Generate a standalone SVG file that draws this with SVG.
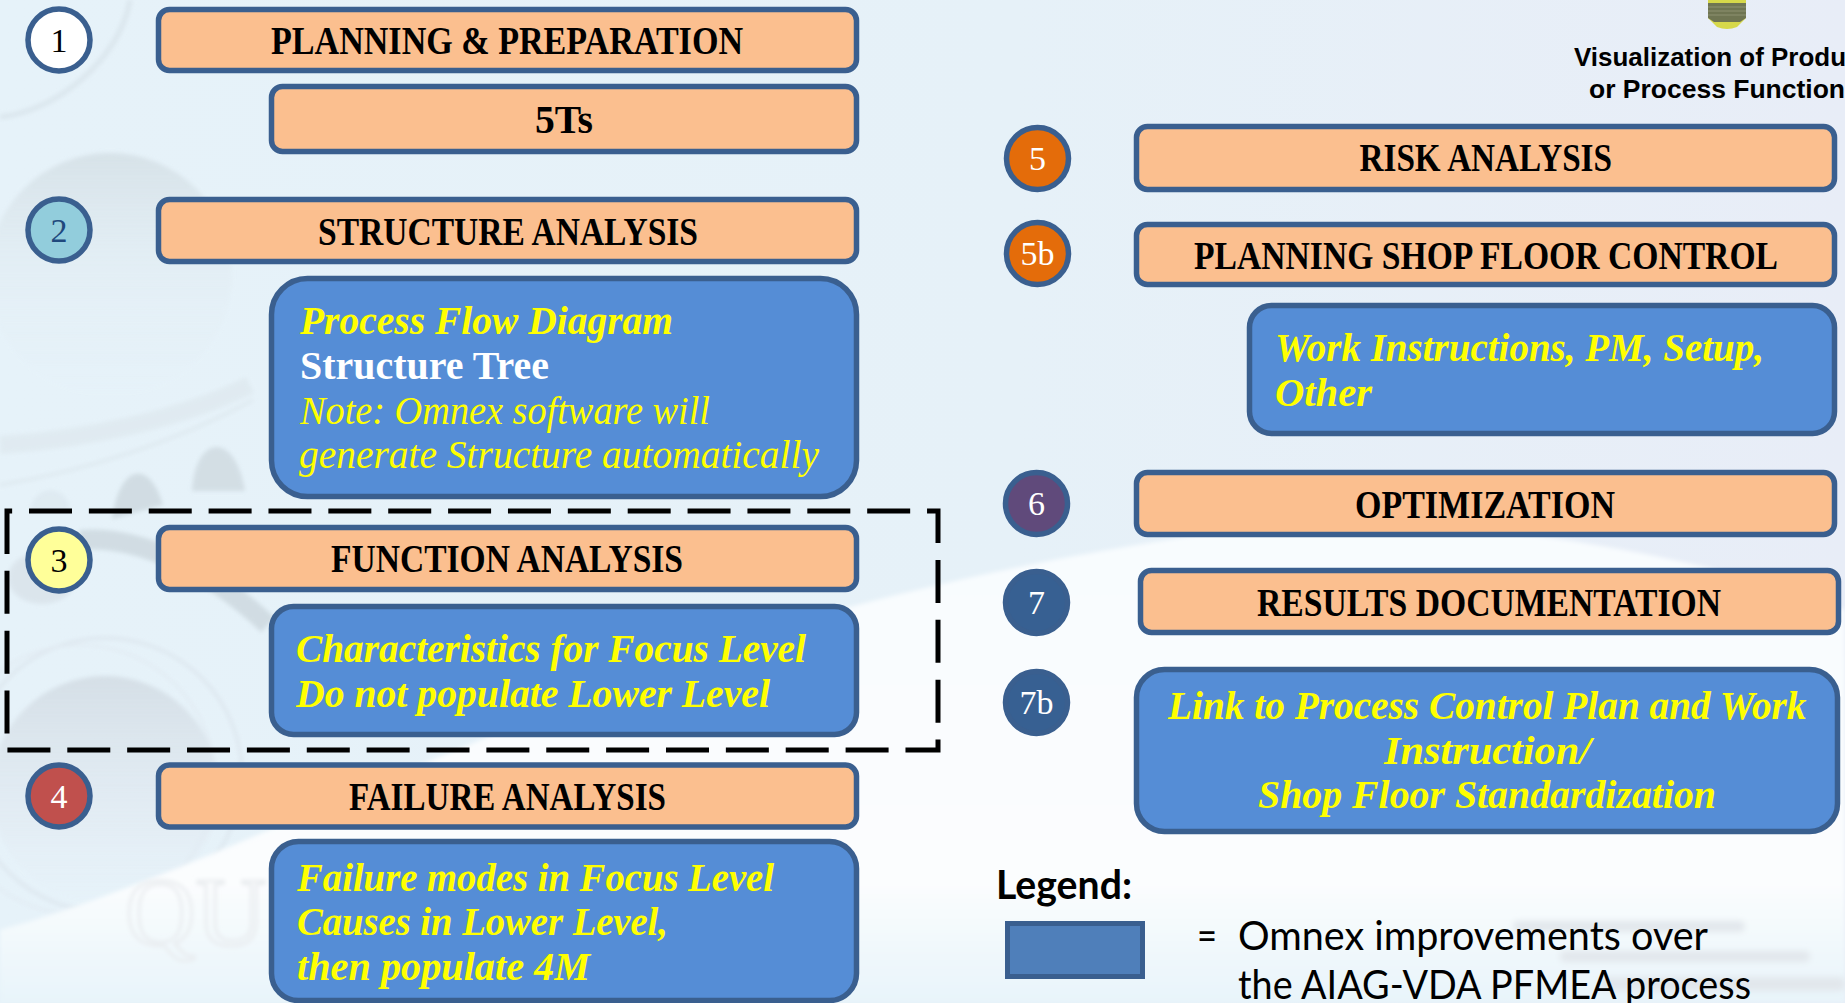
<svg xmlns="http://www.w3.org/2000/svg" width="1845" height="1003" viewBox="0 0 1845 1003">
<style>
.p{fill:#fbbf8f;stroke:#3a5f8f;stroke-width:5.500}
.b{fill:#558dd6;stroke:#3a5f8f;stroke-width:5.500}
.c{stroke:#3a5f8f;stroke-width:5.500}
text{font-family:"Liberation Serif",serif}
.h{font-size:39px;font-weight:bold;fill:#000;text-anchor:start}
.i{font-size:39px;font-weight:bold;font-style:italic;fill:#ffff00}
.n{font-size:39px;font-style:italic;fill:#ffff00}
.w{font-size:39px;font-weight:bold;fill:#fff}
.d{font-size:34px;text-anchor:middle}
.l{font-family:Lato,"Open Sans",sans-serif;font-size:40px;fill:#000}
.v{font-family:"Liberation Sans",Arial,sans-serif;font-size:26px;font-weight:bold;fill:#000}
</style>
<defs>
<linearGradient id="bg" x1="0" x2="1" y1="0" y2="0"><stop offset="0" stop-color="#e6f2f9"/><stop offset="0.55" stop-color="#e6f1f8"/><stop offset="1" stop-color="#e8edf7"/></linearGradient>
<linearGradient id="sw" x1="0" x2="0" y1="0" y2="1"><stop offset="0" stop-color="#f8fcfe"/><stop offset="0.75" stop-color="#fbfdfe"/><stop offset="1" stop-color="#e8f4fa"/></linearGradient>
<linearGradient id="dome" x1="0" x2="0" y1="0" y2="1"><stop offset="0" stop-color="#cfdae0"/><stop offset="0.5" stop-color="#e0eaf0" stop-opacity="0.6"/><stop offset="1" stop-color="#e4eff6" stop-opacity="0"/></linearGradient>
<linearGradient id="hub" x1="0" x2="0" y1="0" y2="1"><stop offset="0" stop-color="#ccd5dd"/><stop offset="0.7" stop-color="#dfe6ee" stop-opacity="0.5"/><stop offset="1" stop-color="#e6edf5" stop-opacity="0"/></linearGradient>
<filter id="s1" x="-20%" y="-20%" width="140%" height="140%"><feGaussianBlur stdDeviation="2"/></filter>
<filter id="s4" x="-20%" y="-100%" width="140%" height="300%"><feGaussianBlur stdDeviation="3"/></filter>
</defs>
<g id="background">
<rect width="1845" height="1003" fill="url(#bg)"/>
<g filter="url(#s1)" fill="none" opacity="0.65">
<path d="M0,117C55,112 120,60 130,0" stroke="#d5e0e7" stroke-width="5"/>
<circle cx="110" cy="275" r="122" fill="url(#dome)"/>
<path d="M0,485C90,470 180,440 253,400" stroke="#d9e3e9" stroke-width="3"/>
<path d="M0,445C80,440 180,420 250,385" stroke="#dde7ed" stroke-width="18"/>
<path d="M30,511C32,485 68,482 70,511Z" fill="#cfd9df" fill-opacity=".45"/>
<path d="M112,519C120,462 150,460 163,505Z" fill="#c6d1d8"/>
<path d="M192,491C195,435 235,430 245,491Z" fill="#c9d4da"/>
<path d="M80,540C140,535 210,570 268,625" stroke="#c6d1d8" stroke-width="20"/>
<ellipse cx="42" cy="578" rx="34" ry="26" fill="#d6dfe6"/>
<circle cx="105" cy="775" r="137" stroke="#d8e0e8" stroke-width="3"/>
<circle cx="105" cy="790" r="114" fill="url(#hub)"/>
<circle cx="80" cy="780" r="135" stroke="#dfe6ee" stroke-width="2"/>
</g>
<path filter="url(#s1)" d="M0,930C220,870 520,700 850,607C1000,568 1120,545 1270,525C1420,512 1680,545 1845,610L1845,1003L0,1003Z" fill="url(#sw)"/>
<g filter="url(#s4)" fill="#e2e7ec">
<rect x="1513" y="921" width="232" height="11" rx="5"/>
<rect x="1560" y="951" width="250" height="11" rx="5"/>
<rect x="1600" y="977" width="245" height="14" rx="5"/>
</g>
<text x="125" y="945" font-size="98" fill="none" stroke="#e8ebee" stroke-width="2.500" filter="url(#s1)">QU</text>
<g id="bulb">
<path d="M1708,0H1746L1746,18L1737,27Q1727,31 1717,27L1708,18Z" fill="#d6d84a"/>
<path d="M1708,3H1746V18L1740,22H1714L1708,18Z" fill="#6f7552"/>
<path d="M1708,7H1746M1708,11H1746M1708,15H1746" stroke="#8d9270" stroke-width="1.200"/>
</g>
</g>
<g id="frame">
<path d="M7,511H938V750H7Z" fill="none" stroke="#000" stroke-width="5" stroke-dasharray="43 16.87" stroke-dashoffset="37.87"/>
</g>
<g id="connectors"/>
<g id="node-1"><circle class="c" cx="59" cy="40" r="31" fill="#fff"/><text class="d" x="59" y="52" fill="#000">1</text></g>
<g id="node-planning"><rect class="p" x="158.500" y="9.500" width="698" height="61" rx="11"/><text class="h" x="271" y="54" textLength="472" lengthAdjust="spacingAndGlyphs">PLANNING &amp; PREPARATION</text></g>
<g id="node-5ts"><rect class="p" x="271.500" y="86.500" width="585" height="65" rx="11"/><text class="h" x="535" y="133" textLength="58" lengthAdjust="spacingAndGlyphs">5Ts</text></g>
<g id="node-2"><circle class="c" cx="59" cy="230" r="31" fill="#92cddc"/><text class="d" x="59" y="242" fill="#1f497d">2</text></g>
<g id="node-structure"><rect class="p" x="158.500" y="199.500" width="698" height="62" rx="11"/><text class="h" x="318" y="245" textLength="380" lengthAdjust="spacingAndGlyphs">STRUCTURE ANALYSIS</text></g>
<g id="node-structure-note"><rect class="b" x="271.500" y="278.500" width="585" height="218" rx="36"/>
<text class="i" x="300" y="334" textLength="373" lengthAdjust="spacingAndGlyphs">Process Flow Diagram</text>
<text class="w" x="300" y="379" textLength="249" lengthAdjust="spacingAndGlyphs">Structure Tree</text>
<text class="n" x="300" y="424" textLength="410" lengthAdjust="spacingAndGlyphs">Note: Omnex software will</text>
<text class="n" x="299" y="468" textLength="520" lengthAdjust="spacingAndGlyphs">generate Structure automatically</text></g>
<g id="node-3"><circle class="c" cx="59" cy="560" r="31" fill="#ffff99"/><text class="d" x="59" y="572" fill="#000">3</text></g>
<g id="node-function"><rect class="p" x="158.500" y="527.500" width="698" height="62" rx="11"/><text class="h" x="331" y="572" textLength="352" lengthAdjust="spacingAndGlyphs">FUNCTION ANALYSIS</text></g>
<g id="node-function-note"><rect class="b" x="271.500" y="606.500" width="585" height="128" rx="22"/>
<text class="i" x="296" y="662" textLength="510" lengthAdjust="spacingAndGlyphs">Characteristics for Focus Level</text>
<text class="i" x="296" y="707" textLength="474" lengthAdjust="spacingAndGlyphs">Do not populate Lower Level</text></g>
<g id="node-4"><circle class="c" cx="59" cy="796" r="31" fill="#c0504d"/><text class="d" x="59" y="808" fill="#fff">4</text></g>
<g id="node-failure"><rect class="p" x="158.500" y="765" width="698" height="62" rx="11"/><text class="h" x="349" y="810" textLength="317" lengthAdjust="spacingAndGlyphs">FAILURE ANALYSIS</text></g>
<g id="node-failure-note"><rect class="b" x="271.500" y="841.500" width="585" height="159" rx="27"/>
<text class="i" x="297" y="891" textLength="477" lengthAdjust="spacingAndGlyphs">Failure modes in Focus Level</text>
<text class="i" x="297" y="935" textLength="371" lengthAdjust="spacingAndGlyphs">Causes in Lower Level,</text>
<text class="i" x="297" y="980" textLength="293" lengthAdjust="spacingAndGlyphs">then populate 4M</text></g>
<g id="node-visualization"><text class="v" x="1574" y="66" textLength="272" lengthAdjust="spacingAndGlyphs">Visualization of Produ</text><text class="v" x="1589" y="98" textLength="256" lengthAdjust="spacingAndGlyphs">or Process Function</text></g>
<g id="node-5"><circle class="c" cx="1037.500" cy="158.500" r="31" fill="#e46c0a"/><text class="d" x="1037.500" y="170" fill="#fff">5</text></g>
<g id="node-risk"><rect class="p" x="1136.500" y="126.500" width="698" height="63" rx="11"/><text class="h" x="1359.500" y="171" textLength="252.500" lengthAdjust="spacingAndGlyphs">RISK ANALYSIS</text></g>
<g id="node-5b"><circle class="c" cx="1037.500" cy="253.500" r="31" fill="#e46c0a"/><text class="d" x="1037.500" y="265" fill="#fff">5b</text></g>
<g id="node-shopfloor"><rect class="p" x="1136.500" y="224.500" width="698" height="60" rx="11"/><text class="h" x="1194" y="269" textLength="584" lengthAdjust="spacingAndGlyphs">PLANNING SHOP FLOOR CONTROL</text></g>
<g id="node-shopfloor-note"><rect class="b" x="1249.500" y="305.500" width="585" height="128" rx="22"/>
<text class="i" x="1275" y="361" textLength="489" lengthAdjust="spacingAndGlyphs">Work Instructions, PM, Setup,</text>
<text class="i" x="1275" y="406" textLength="97" lengthAdjust="spacingAndGlyphs">Other</text></g>
<g id="node-6"><circle class="c" cx="1036.500" cy="503.500" r="31" fill="#604a7b"/><text class="d" x="1036.500" y="515" fill="#fff">6</text></g>
<g id="node-optimization"><rect class="p" x="1136.500" y="472.500" width="698" height="62" rx="11"/><text class="h" x="1355" y="518" textLength="260" lengthAdjust="spacingAndGlyphs">OPTIMIZATION</text></g>
<g id="node-7"><circle class="c" cx="1036.500" cy="602.500" r="31" fill="#376092"/><text class="d" x="1036.500" y="614" fill="#fff">7</text></g>
<g id="node-results"><rect class="p" x="1140.500" y="570.500" width="698" height="62" rx="11"/><text class="h" x="1257" y="616" textLength="464" lengthAdjust="spacingAndGlyphs">RESULTS DOCUMENTATION</text></g>
<g id="node-7b"><circle class="c" cx="1036.500" cy="702.500" r="31" fill="#376092"/><text class="d" x="1036.500" y="714" fill="#fff">7b</text></g>
<g id="node-link"><rect class="b" x="1136.500" y="669.500" width="701" height="162" rx="28"/>
<text class="i" x="1168" y="719" textLength="638.500" lengthAdjust="spacingAndGlyphs">Link to Process Control Plan and Work</text>
<text class="i" x="1384" y="764" textLength="207" lengthAdjust="spacingAndGlyphs">Instruction/</text>
<text class="i" x="1258" y="808" textLength="458" lengthAdjust="spacingAndGlyphs">Shop Floor Standardization</text></g>
<g id="legend">
<text class="l" x="996" y="899" font-weight="bold" textLength="136" lengthAdjust="spacingAndGlyphs">Legend:</text>
<rect x="1007.500" y="923.500" width="135" height="53" fill="#4f7fba" stroke="#3a5f8f" stroke-width="5"/>
<text class="l" x="1197" y="950" textLength="20" lengthAdjust="spacingAndGlyphs">=</text>
<text class="l" x="1238" y="950" textLength="470" lengthAdjust="spacingAndGlyphs">Omnex improvements over</text>
<text class="l" x="1238" y="999" textLength="513" lengthAdjust="spacingAndGlyphs">the AIAG-VDA PFMEA process</text>
</g>
</svg>
